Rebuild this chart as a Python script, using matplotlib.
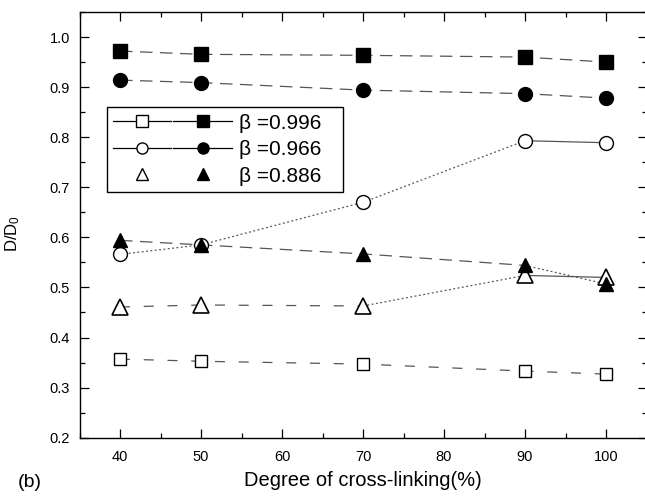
import matplotlib
matplotlib.use("Agg")
import matplotlib.pyplot as plt
from matplotlib.lines import Line2D
from matplotlib.legend_handler import HandlerTuple
from matplotlib.ticker import MultipleLocator

plt.rcParams['font.family'] = ['Liberation Sans', 'DejaVu Sans']
plt.rcParams['mathtext.default'] = 'regular'

# degree of cross-linking (%)
crosslink = [40, 50, 70, 90, 100]

# D/D0 values
sq_open = [0.357, 0.3526, 0.347, 0.333, 0.327]
sq_fill = [0.972, 0.9655, 0.9635, 0.960, 0.950]
ci_open = [0.566, 0.585, 0.670, 0.793, 0.789]
ci_fill = [0.914, 0.909, 0.894, 0.887, 0.878]
tr_open = [0.461, 0.465, 0.463, 0.524, 0.520]
tr_fill = [0.594, 0.585, 0.567, 0.544, 0.507]

labels = ["\u03b2 =0.996", "\u03b2 =0.966", "\u03b2 =0.886"]

LC = '#555555'
LW = 0.9
DASH = (0, (10, 6))
LDASH = (0, (8, 11))
DOT = (0, (1.5, 2))


def seg(ax, x, y, i0, i1, ls):
    # draw the connecting line over a slice of the points
    ax.plot(x[i0:i1], y[i0:i1], color=LC, lw=LW, linestyle=ls, zorder=1)


fig = plt.figure(figsize=(6.45, 4.98), dpi=100)
ax = fig.add_axes([79.5 / 645, 60.3 / 498, 567 / 645, 425.7 / 498])

# connecting lines
seg(ax, crosslink, sq_fill, 0, 5, DASH)
seg(ax, crosslink, ci_fill, 0, 5, DASH)
seg(ax, crosslink, ci_open, 0, 4, DOT)
seg(ax, crosslink, ci_open, 3, 5, '-')
seg(ax, crosslink, sq_open, 0, 5, LDASH)
seg(ax, crosslink, tr_open, 0, 3, LDASH)
seg(ax, crosslink, tr_open, 2, 4, DOT)
seg(ax, crosslink, tr_open, 3, 5, '-')
seg(ax, crosslink, tr_fill, 0, 4, DASH)
seg(ax, crosslink, tr_fill, 3, 5, DOT)

# markers
ax.plot(crosslink, sq_fill, 's', color='black', ms=9.5, ls='none', zorder=3)
ax.plot(crosslink, ci_fill, 'o', color='black', ms=10, ls='none', zorder=3)
ax.plot(crosslink, tr_fill, '^', color='black', ms=10.5, ls='none', zorder=3)
ax.plot(crosslink, sq_open, 's', mfc='white', mec='black', mew=1.0, ms=9,
        ls='none', zorder=3)
ax.plot(crosslink, ci_open, 'o', mfc='white', mec='black', mew=1.0, ms=10,
        ls='none', zorder=2)
ax.plot(crosslink, tr_open, '^', mfc='white', mec='black', mew=1.2, ms=11.5,
        ls='none', zorder=2)

ax.set_xlim(35, 105)
ax.set_ylim(0.2, 1.05)
ax.xaxis.set_major_locator(MultipleLocator(10))
ax.xaxis.set_minor_locator(MultipleLocator(5))
ax.yaxis.set_major_locator(MultipleLocator(0.1))
ax.yaxis.set_minor_locator(MultipleLocator(0.05))
ax.set_xticks([40, 50, 60, 70, 80, 90, 100])
ax.set_yticks([0.2, 0.3, 0.4, 0.5, 0.6, 0.7, 0.8, 0.9, 1.0])
ax.tick_params(which='both', direction='in', top=True, right=True,
               width=0.9, labelsize=10.5)
ax.tick_params(which='major', length=6.5)
ax.tick_params(which='minor', length=3.6)
ax.tick_params(axis='y', pad=7)
ax.tick_params(axis='x', pad=8.5)
for sp in ax.spines.values():
    sp.set_linewidth(1.0)

ax.set_xlabel("Degree of cross-linking(%)", fontsize=14.5)
ax.xaxis.set_label_coords(0.5, -0.078)
ax.set_ylabel("D/D$_0$", fontsize=12)
ax.yaxis.set_label_coords(-0.101, 0.48)

fig.text(18 / 645, 16 / 498, "(b)", fontsize=14, va='center', ha='left')

# legend with an open and a filled symbol for each beta
def pair(marker, ls):
    a = Line2D([], [], color='black', lw=0.9, ls=ls, marker=marker,
               mfc='white', mec='black', ms=8)
    b = Line2D([], [], color='black', lw=0.9, ls=ls, marker=marker,
               mfc='black', mec='black', ms=8)
    return (a, b)


handles = [pair('s', '-'), pair('o', '-'), pair('^', 'none')]
leg = ax.legend(handles, labels, loc='upper left',
                bbox_to_anchor=(0.048, 0.5, 0.417, 0.276), mode='expand',
                handler_map={tuple: HandlerTuple(ndivide=None, pad=0.1)},
                fontsize=15, handlelength=5.7, handletextpad=0.33,
                labelspacing=0.36, borderpad=0.3, borderaxespad=0,
                fancybox=False, framealpha=1, edgecolor='black')
leg.get_frame().set_linewidth(1.0)

fig.savefig("out.png", dpi=100)
